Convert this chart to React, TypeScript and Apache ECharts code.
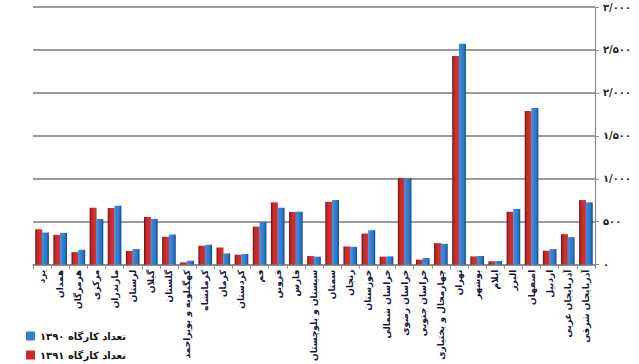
import React, { useEffect, useRef } from "react";
import * as echarts from "echarts";

const provinces = [
  "یزد", "همدان", "هرمزگان", "مرکزی", "مازندران", "لرستان", "گیلان", "گلستان",
  "کهگیلویه و بویراحمد", "کرمانشاه", "کرمان", "کردستان", "قم", "قزوین", "فارس",
  "سیستان و بلوچستان", "سمنان", "زنجان", "خوزستان", "خراسان شمالی", "خراسان رضوی",
  "خراسان جنوبی", "چهارمحال و بختیاری", "تهران", "بوشهر", "ایلام", "البرز",
  "اصفهان", "اردبیل", "آذربایجان غربی", "آذربایجان شرقی",
];

const workshops1391 = [
  412, 347, 146, 663, 659, 158, 555, 324, 27, 220, 200, 116, 443, 725, 613,
  100, 732, 212, 362, 93, 1010, 58, 251, 2429, 96, 39, 617, 1789, 162, 355, 752,
];

const workshops1390 = [
  374, 370, 173, 532, 686, 181, 532, 351, 46, 231, 131, 123, 497, 663, 617,
  93, 752, 208, 401, 96, 1010, 77, 243, 2571, 100, 42, 648, 1823, 181, 320, 725,
];

const seriesNames = ["تعداد کارگاه ۱۳۹۱", "تعداد کارگاه ۱۳۹۰"];
const legendOrder = ["تعداد کارگاه ۱۳۹۰", "تعداد کارگاه ۱۳۹۱"];

const faDigits = "۰۱۲۳۴۵۶۷۸۹";
const toFa = (n: number) =>
  String(n)
    .replace(/\B(?=(\d{3})+(?!\d))/g, "/")
    .replace(/\d/g, (d) => faDigits[Number(d)]);

export default function App() {
  const ref = useRef<HTMLDivElement>(null);
  useEffect(() => {
    if (!ref.current) return;
    const chart = echarts.init(ref.current, undefined, { renderer: "svg" });
    const redGrad = new echarts.graphic.LinearGradient(0, 0, 1, 0, [
      { offset: 0, color: "#6e1010" },
      { offset: 0.3, color: "#c22a2a" },
      { offset: 1, color: "#d8352f" },
    ]);
    const blueGrad = new echarts.graphic.LinearGradient(0, 0, 1, 0, [
      { offset: 0, color: "#3f92e4" },
      { offset: 0.7, color: "#2b74c9" },
      { offset: 1, color: "#16477f" },
    ]);
    chart.setOption({
      animation: false,
      backgroundColor: "#ffffff",
      textStyle: { fontFamily: "DejaVu Sans" },
      grid: { left: 33, right: 44, top: 7, bottom: 98 },
      legend: {
        data: [
          { name: legendOrder[0], itemStyle: { color: "#2f7fd2" } },
          { name: legendOrder[1], itemStyle: { color: "#c62a2a" } },
        ],
        orient: "vertical",
        left: 26,
        top: 331,
        padding: 0,
        itemWidth: 9,
        itemHeight: 9,
        itemGap: 9,
        icon: "rect",
        textStyle: { fontSize: 10, color: "#111", fontWeight: "bold" },
      },
      xAxis: {
        type: "category",
        data: provinces,
        axisLine: { lineStyle: { color: "#8a8a8a", width: 1.5 } },
        axisTick: { show: true, length: 4, lineStyle: { color: "#8a8a8a" } },
        axisLabel: {
          interval: 0,
          rotate: 90,
          fontSize: 9,
          margin: 5,
          color: "#14143a",
          fontWeight: "bold",
        },
      },
      yAxis: {
        type: "value",
        position: "right",
        min: 0,
        max: 3000,
        interval: 500,
        axisLine: { show: true, lineStyle: { color: "#8a8a8a", width: 1.2 } },
        axisTick: { show: true, length: 4, lineStyle: { color: "#8a8a8a" } },
        splitLine: { lineStyle: { color: "#7a7a7a", width: 1.5 } },
        axisLabel: {
          formatter: (v: number) => toFa(v),
          fontSize: 10,
          color: "#222",
          margin: 8,
          fontWeight: "bold",
        },
      },
      series: [
        {
          name: seriesNames[0],
          type: "bar",
          data: workshops1391,
          barWidth: 7,
          barGap: "-5%",
          itemStyle: { color: redGrad },
        },
        {
          name: seriesNames[1],
          type: "bar",
          data: workshops1390,
          barWidth: 7,
          itemStyle: { color: blueGrad },
        },
      ],
    });
    return () => chart.dispose();
  }, []);
  return (
    <div
      ref={ref}
      style={{ position: "fixed", left: 0, top: 0, width: 639, height: 364 }}
    />
  );
}
